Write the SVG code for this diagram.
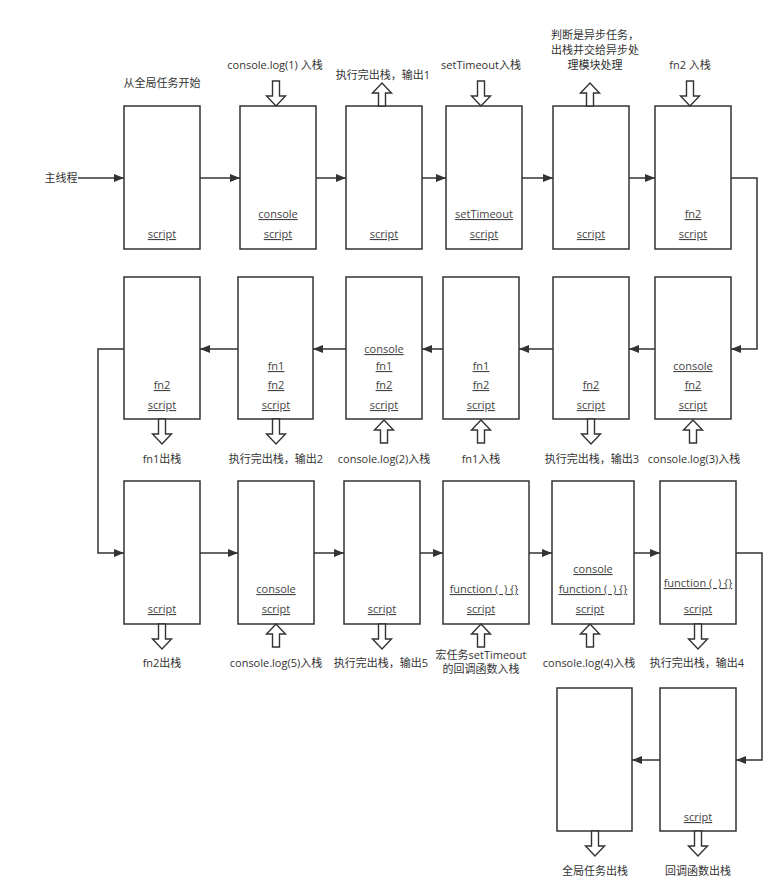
<svg xmlns="http://www.w3.org/2000/svg" xmlns:xlink="http://www.w3.org/1999/xlink" width="782" height="881" viewBox="0 0 782 881">
<style>
.box{fill:#fff;stroke:#333;stroke-width:1.5}
.con{fill:none;stroke:#333;stroke-width:1.5}
.bt{font-family:"Open Sans","Noto Sans CJK SC",sans-serif;font-size:11px;fill:#444;text-anchor:middle;text-decoration:underline}
.lb{font-family:"Open Sans","Noto Sans CJK SC",sans-serif;font-size:11px;fill:#333;text-anchor:middle}
.ha{fill:#fff;stroke:#333;stroke-width:1.4}
</style>
<defs>
<marker id="ah" markerWidth="10" markerHeight="8" refX="10" refY="4" orient="auto" markerUnits="userSpaceOnUse">
<path d="M0,0 L10,4 L0,8 z" fill="#333"/>
</marker>
<path id="dn" class="ha" d="M-3.5,0 H3.5 V15 H9.5 L0,25 L-9.5,15 H-3.5 Z"/>
<path id="up" class="ha" d="M-3.5,0 H3.5 V-13 H9.5 L0,-23 L-9.5,-13 H-3.5 Z"/>
</defs>
<rect width="782" height="881" fill="#fff"/>

<g id="connectors">
<line class="con" x1="78" y1="178" x2="124" y2="178" marker-end="url(#ah)"/>
<line class="con" x1="200" y1="178" x2="240" y2="178" marker-end="url(#ah)"/>
<line class="con" x1="316" y1="178" x2="346" y2="178" marker-end="url(#ah)"/>
<line class="con" x1="422" y1="178" x2="446" y2="178" marker-end="url(#ah)"/>
<line class="con" x1="522" y1="178" x2="553" y2="178" marker-end="url(#ah)"/>
<line class="con" x1="629" y1="178" x2="655" y2="178" marker-end="url(#ah)"/>
<path class="con" d="M731,178 H757 V349 H731" marker-end="url(#ah)"/>
<line class="con" x1="655" y1="349" x2="629" y2="349" marker-end="url(#ah)"/>
<line class="con" x1="553" y1="349" x2="519" y2="349" marker-end="url(#ah)"/>
<line class="con" x1="443" y1="349" x2="422" y2="349" marker-end="url(#ah)"/>
<line class="con" x1="346" y1="349" x2="313" y2="349" marker-end="url(#ah)"/>
<line class="con" x1="238" y1="349" x2="200" y2="349" marker-end="url(#ah)"/>
<path class="con" d="M124,349 H98 V553 H124" marker-end="url(#ah)"/>
<line class="con" x1="200" y1="553" x2="238" y2="553" marker-end="url(#ah)"/>
<line class="con" x1="314" y1="553" x2="344" y2="553" marker-end="url(#ah)"/>
<line class="con" x1="420" y1="553" x2="443" y2="553" marker-end="url(#ah)"/>
<line class="con" x1="529" y1="553" x2="552" y2="553" marker-end="url(#ah)"/>
<line class="con" x1="634" y1="553" x2="660" y2="553" marker-end="url(#ah)"/>
<path class="con" d="M736,553 H762 V760 H736" marker-end="url(#ah)"/>
<line class="con" x1="660" y1="760" x2="632" y2="760" marker-end="url(#ah)"/>
</g>

<text class="lb" x="61" y="182">主线程</text>

<!-- Row 1 -->
<g id="r1n1">
<rect class="box" x="124" y="106" width="76" height="143"/>
<text class="bt" x="162" y="238">script</text>
<text class="lb" x="162" y="87">从全局任务开始</text>
</g>
<g id="r1n2">
<rect class="box" x="240" y="106" width="76" height="143"/>
<text class="bt" x="278" y="218">console</text>
<text class="bt" x="278" y="238">script</text>
<use xlink:href="#dn" x="276" y="81"/>
<text class="lb" x="275" y="69">console.log(1) 入栈</text>
</g>
<g id="r1n3">
<rect class="box" x="346" y="106" width="76" height="143"/>
<text class="bt" x="384" y="238">script</text>
<use xlink:href="#up" x="382" y="106"/>
<text class="lb" x="383" y="79">执行完出栈，输出1</text>
</g>
<g id="r1n4">
<rect class="box" x="446" y="106" width="76" height="143"/>
<text class="bt" x="484" y="218">setTimeout</text>
<text class="bt" x="484" y="238">script</text>
<use xlink:href="#dn" x="481" y="81"/>
<text class="lb" x="481" y="69">setTimeout入栈</text>
</g>
<g id="r1n5">
<rect class="box" x="553" y="106" width="76" height="143"/>
<text class="bt" x="591" y="238">script</text>
<use xlink:href="#up" x="590" y="106"/>
<text class="lb" x="595" y="39">判断是异步任务，</text>
<text class="lb" x="595" y="54">出栈并交给异步处</text>
<text class="lb" x="595" y="69">理模块处理</text>
</g>
<g id="r1n6">
<rect class="box" x="655" y="106" width="76" height="143"/>
<text class="bt" x="693" y="218">fn2</text>
<text class="bt" x="693" y="238">script</text>
<use xlink:href="#dn" x="690" y="81"/>
<text class="lb" x="690" y="69">fn2 入栈</text>
</g>

<!-- Row 2 -->
<g id="r2n1">
<rect class="box" x="124" y="277" width="76" height="142"/>
<text class="bt" x="162" y="389">fn2</text>
<text class="bt" x="162" y="409">script</text>
<use xlink:href="#dn" x="162" y="419"/>
<text class="lb" x="162" y="463">fn1出栈</text>
</g>
<g id="r2n2">
<rect class="box" x="238" y="277" width="75" height="142"/>
<text class="bt" x="276" y="370">fn1</text>
<text class="bt" x="276" y="389">fn2</text>
<text class="bt" x="276" y="409">script</text>
<use xlink:href="#dn" x="276" y="419"/>
<text class="lb" x="276" y="463">执行完出栈，输出2</text>
</g>
<g id="r2n3">
<rect class="box" x="346" y="277" width="76" height="142"/>
<text class="bt" x="384" y="353">console</text>
<text class="bt" x="384" y="370">fn1</text>
<text class="bt" x="384" y="389">fn2</text>
<text class="bt" x="384" y="409">script</text>
<use xlink:href="#up" x="384" y="443"/>
<text class="lb" x="384" y="463">console.log(2)入栈</text>
</g>
<g id="r2n4">
<rect class="box" x="443" y="277" width="76" height="142"/>
<text class="bt" x="481" y="370">fn1</text>
<text class="bt" x="481" y="389">fn2</text>
<text class="bt" x="481" y="409">script</text>
<use xlink:href="#up" x="481" y="443"/>
<text class="lb" x="481" y="463">fn1入栈</text>
</g>
<g id="r2n5">
<rect class="box" x="553" y="277" width="76" height="142"/>
<text class="bt" x="591" y="389">fn2</text>
<text class="bt" x="591" y="409">script</text>
<use xlink:href="#dn" x="591" y="419"/>
<text class="lb" x="592" y="463">执行完出栈，输出3</text>
</g>
<g id="r2n6">
<rect class="box" x="655" y="277" width="76" height="142"/>
<text class="bt" x="693" y="370">console</text>
<text class="bt" x="693" y="389">fn2</text>
<text class="bt" x="693" y="409">script</text>
<use xlink:href="#up" x="693" y="443"/>
<text class="lb" x="694" y="463">console.log(3)入栈</text>
</g>

<!-- Row 3 -->
<g id="r3n1">
<rect class="box" x="124" y="481" width="76" height="143"/>
<text class="bt" x="162" y="613">script</text>
<use xlink:href="#dn" x="162" y="624"/>
<text class="lb" x="162" y="667">fn2出栈</text>
</g>
<g id="r3n2">
<rect class="box" x="238" y="481" width="76" height="143"/>
<text class="bt" x="276" y="593">console</text>
<text class="bt" x="276" y="613">script</text>
<use xlink:href="#up" x="276" y="647"/>
<text class="lb" x="276" y="667">console.log(5)入栈</text>
</g>
<g id="r3n3">
<rect class="box" x="344" y="481" width="76" height="143"/>
<text class="bt" x="382" y="613">script</text>
<use xlink:href="#dn" x="382" y="624"/>
<text class="lb" x="381" y="667">执行完出栈，输出5</text>
</g>
<g id="r3n4">
<rect class="box" x="443" y="481" width="86" height="143"/>
<text class="bt" x="484" y="593">function (&#160;&#160;) {}</text>
<text class="bt" x="481" y="613">script</text>
<use xlink:href="#up" x="481" y="647"/>
<text class="lb" x="481" y="659">宏任务setTimeout</text>
<text class="lb" x="481" y="673">的回调函数入栈</text>
</g>
<g id="r3n5">
<rect class="box" x="552" y="481" width="82" height="143"/>
<text class="bt" x="593" y="573">console</text>
<text class="bt" x="593" y="593">function (&#160;&#160;) {}</text>
<text class="bt" x="590" y="613">script</text>
<use xlink:href="#up" x="590" y="647"/>
<text class="lb" x="589" y="667">console.log(4)入栈</text>
</g>
<g id="r3n6">
<rect class="box" x="660" y="481" width="76" height="143"/>
<text class="bt" x="698" y="587">function (&#160;&#160;) {}</text>
<text class="bt" x="698" y="613">script</text>
<use xlink:href="#dn" x="698" y="624"/>
<text class="lb" x="697" y="667">执行完出栈，输出4</text>
</g>

<!-- Row 4 -->
<g id="r4n1">
<rect class="box" x="557" y="688" width="75" height="143"/>
<use xlink:href="#dn" x="595" y="831"/>
<text class="lb" x="595" y="875">全局任务出栈</text>
</g>
<g id="r4n2">
<rect class="box" x="660" y="688" width="76" height="143"/>
<text class="bt" x="698" y="821">script</text>
<use xlink:href="#dn" x="698" y="831"/>
<text class="lb" x="698" y="875">回调函数出栈</text>
</g>
</svg>
